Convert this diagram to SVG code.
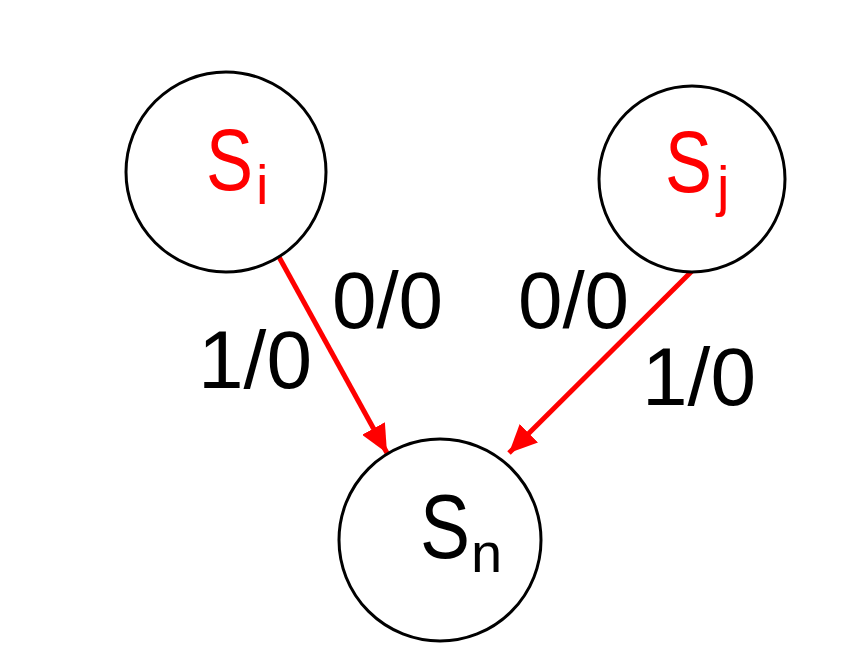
<svg xmlns="http://www.w3.org/2000/svg" width="868" height="656" viewBox="0 0 868 656">
<style>
.node{fill:#fff;stroke:#000;stroke-width:3}
.lbl{font-family:"Liberation Sans",Arial,sans-serif;fill:#000}
.red{fill:#ff0000}
.edge{stroke:#ff0000;stroke-width:5;fill:none}
</style>
<defs>
<marker id="ah" markerUnits="userSpaceOnUse" markerWidth="28" markerHeight="26" viewBox="0 0 28 26" refX="28" refY="13" orient="auto">
<path d="M0,0 L28,13 L0,26 Z" fill="#ff0000"/>
</marker>
</defs>
<rect width="868" height="656" fill="#fff"/>
<g id="connectors">
<line class="edge" x1="279" y1="257" x2="387" y2="453" marker-end="url(#ah)"/>
<line class="edge" x1="692" y1="271" x2="509" y2="453" marker-end="url(#ah)"/>
</g>
<g id="Si">
<circle class="node" cx="226" cy="172" r="100"/>
<text class="lbl red" font-size="88"><tspan x="206" y="190" textLength="47" lengthAdjust="spacingAndGlyphs">S</tspan><tspan x="256" y="204" font-size="56">i</tspan></text>
</g>
<g id="Sj">
<circle class="node" cx="692" cy="179" r="93"/>
<text class="lbl red" font-size="88"><tspan x="665" y="192" textLength="47" lengthAdjust="spacingAndGlyphs">S</tspan><tspan x="717" y="205" font-size="56">j</tspan></text>
</g>
<g id="Sn">
<circle class="node" cx="440" cy="540" r="101"/>
<text class="lbl" font-size="90"><tspan x="420" y="558" textLength="50" lengthAdjust="spacingAndGlyphs">S</tspan><tspan x="471" y="572" font-size="56">n</tspan></text>
</g>
<g id="labels">
<text class="lbl" x="387.5" y="328" font-size="80" text-anchor="middle">0/0</text>
<text class="lbl" x="255" y="388" font-size="82" text-anchor="middle">1/0</text>
<text class="lbl" x="573.5" y="328" font-size="80" text-anchor="middle">0/0</text>
<text class="lbl" x="699" y="405" font-size="82" text-anchor="middle">1/0</text>
</g>
</svg>
